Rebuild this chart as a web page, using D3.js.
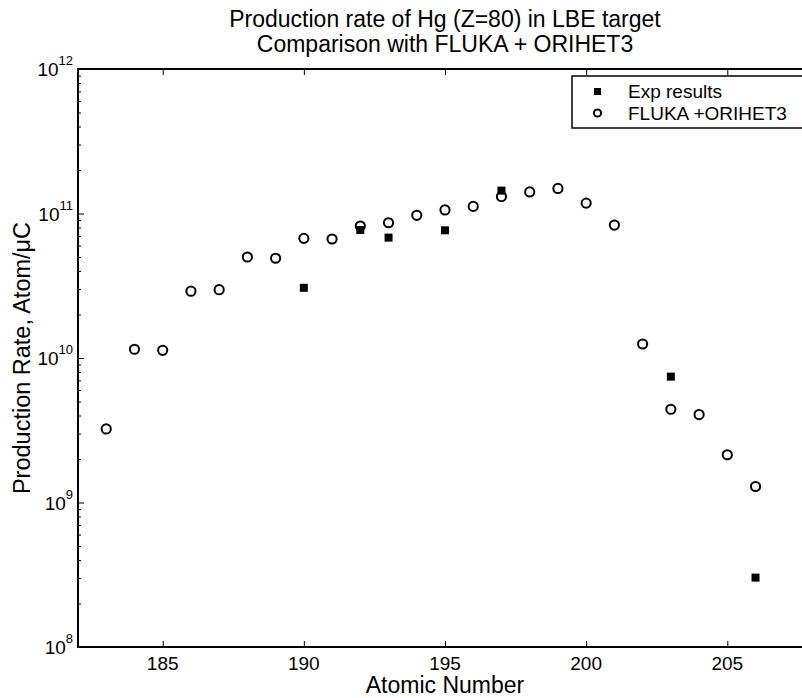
<!DOCTYPE html>
<html><head><meta charset="utf-8">
<script src="https://cdn.jsdelivr.net/npm/d3@7"></script>
<style>body{margin:0;background:#fff;overflow:hidden}svg{display:block}text{font-family:"Liberation Sans",Arial,sans-serif;fill:#000}</style>
</head><body>
<svg id="c" width="802" height="698"></svg>
<script>
const fluka_x = [183,184,185,186,187,188,189,190,191,192,193,194,195,196,197,198,199,200,201,202,203,204,205,206];
const fluka_y = [3.23e9,1.15e10,1.13e10,2.90e10,2.97e10,5.0e10,4.9e10,6.73e10,6.66e10,8.19e10,8.63e10,9.72e10,1.058e11,1.12e11,1.31e11,1.41e11,1.49e11,1.18e11,8.32e10,1.25e10,4.42e9,4.06e9,2.14e9,1.29e9];
const exp_x = [190,192,193,195,197,203,206];
const exp_y = [3.06e10,7.69e10,6.81e10,7.65e10,1.44e11,7.43e9,3.02e8];
const xTicks = [185,190,195,200,205];
const yTicks = [1e8,1e9,1e10,1e11,1e12];
const yExp = [8,9,10,11,12];
const titleLines = ["Production rate of Hg (Z=80) in LBE target","Comparison with FLUKA + ORIHET3"];
const legendLabels = ["Exp results","FLUKA +ORIHET3"];

const L=78,R=812,T=69,B=647;
const svg=d3.select("#c");
const x=d3.scaleLinear().domain([182,208]).range([L,R]);
const y=d3.scaleLog().domain([1e8,1e12]).range([B,T]);

const minors=[];
for(let e=8;e<12;e++)for(let m=2;m<=9;m++)minors.push(m*Math.pow(10,e));
const g=svg.append("g");
const la=d3.axisLeft(y).tickValues(yTicks).tickSize(-6).tickFormat("");
const lm=d3.axisLeft(y).tickValues(minors).tickSize(-3).tickFormat("");
const ba=d3.axisBottom(x).tickValues(xTicks).tickSize(-6).tickFormat("");
const ta=d3.axisTop(x).tickValues(xTicks).tickSize(-6).tickFormat("");
[[la,`translate(${L},0)`],[lm,`translate(${L},0)`],[ba,`translate(0,${B})`],[ta,`translate(0,${T})`]].forEach(([a,t])=>{
  const gg=g.append("g").attr("transform",t).call(a);
  gg.select(".domain").remove();
  gg.selectAll("line").attr("stroke","#000").attr("stroke-width",1);
});
g.append("rect").attr("x",L).attr("y",T).attr("width",R-L).attr("height",B-T).attr("fill","none").attr("stroke","#000").attr("stroke-width",2);

svg.append("g").selectAll("text").data(xTicks).join("text")
  .attr("x",d=>x(d)).attr("y",670).attr("text-anchor","middle").attr("font-size",19).text(d=>d);
const yl=svg.append("g").selectAll("text").data(yTicks).join("text")
  .attr("x",L-5).attr("y",d=>y(d)+7).attr("text-anchor","end").attr("font-size",19);
yl.append("tspan").text("10");
yl.append("tspan").attr("dy",-11).attr("font-size",13).text((d,i)=>yExp[i]);

svg.append("g").selectAll("text").data(titleLines).join("text")
  .attr("x",(L+R)/2).attr("y",(d,i)=>27+i*25).attr("text-anchor","middle").attr("font-size",23).text(d=>d);
svg.append("text").attr("x",(L+R)/2).attr("y",693).attr("text-anchor","middle").attr("font-size",23).text("Atomic Number");
svg.append("text").attr("transform",`translate(30,${(T+B)/2}) rotate(-90)`).attr("text-anchor","middle").attr("font-size",23.5).text("Production Rate, Atom/μC");

svg.append("g").selectAll("circle").data(fluka_x).join("circle")
  .attr("cx",d=>x(d)).attr("cy",(d,i)=>y(fluka_y[i])).attr("r",4.6).attr("fill","none").attr("stroke","#000").attr("stroke-width",2);
svg.append("g").selectAll("rect").data(exp_x).join("rect")
  .attr("x",d=>x(d)-4).attr("y",(d,i)=>y(exp_y[i])-4).attr("width",8).attr("height",8).attr("fill","#000");

const lg=svg.append("g");
lg.append("rect").attr("x",572).attr("y",76).attr("width",260).attr("height",52).attr("fill","#fff").attr("stroke","#000").attr("stroke-width",1.5);
lg.append("rect").attr("x",594).attr("y",88).attr("width",7).attr("height",7).attr("fill","#000");
lg.append("circle").attr("cx",597.5).attr("cy",113).attr("r",3.6).attr("fill","none").attr("stroke","#000").attr("stroke-width",2);
lg.selectAll("text").data(legendLabels).join("text").attr("x",628).attr("y",(d,i)=>98+i*22).attr("font-size",19).text(d=>d);
</script>
</body></html>
